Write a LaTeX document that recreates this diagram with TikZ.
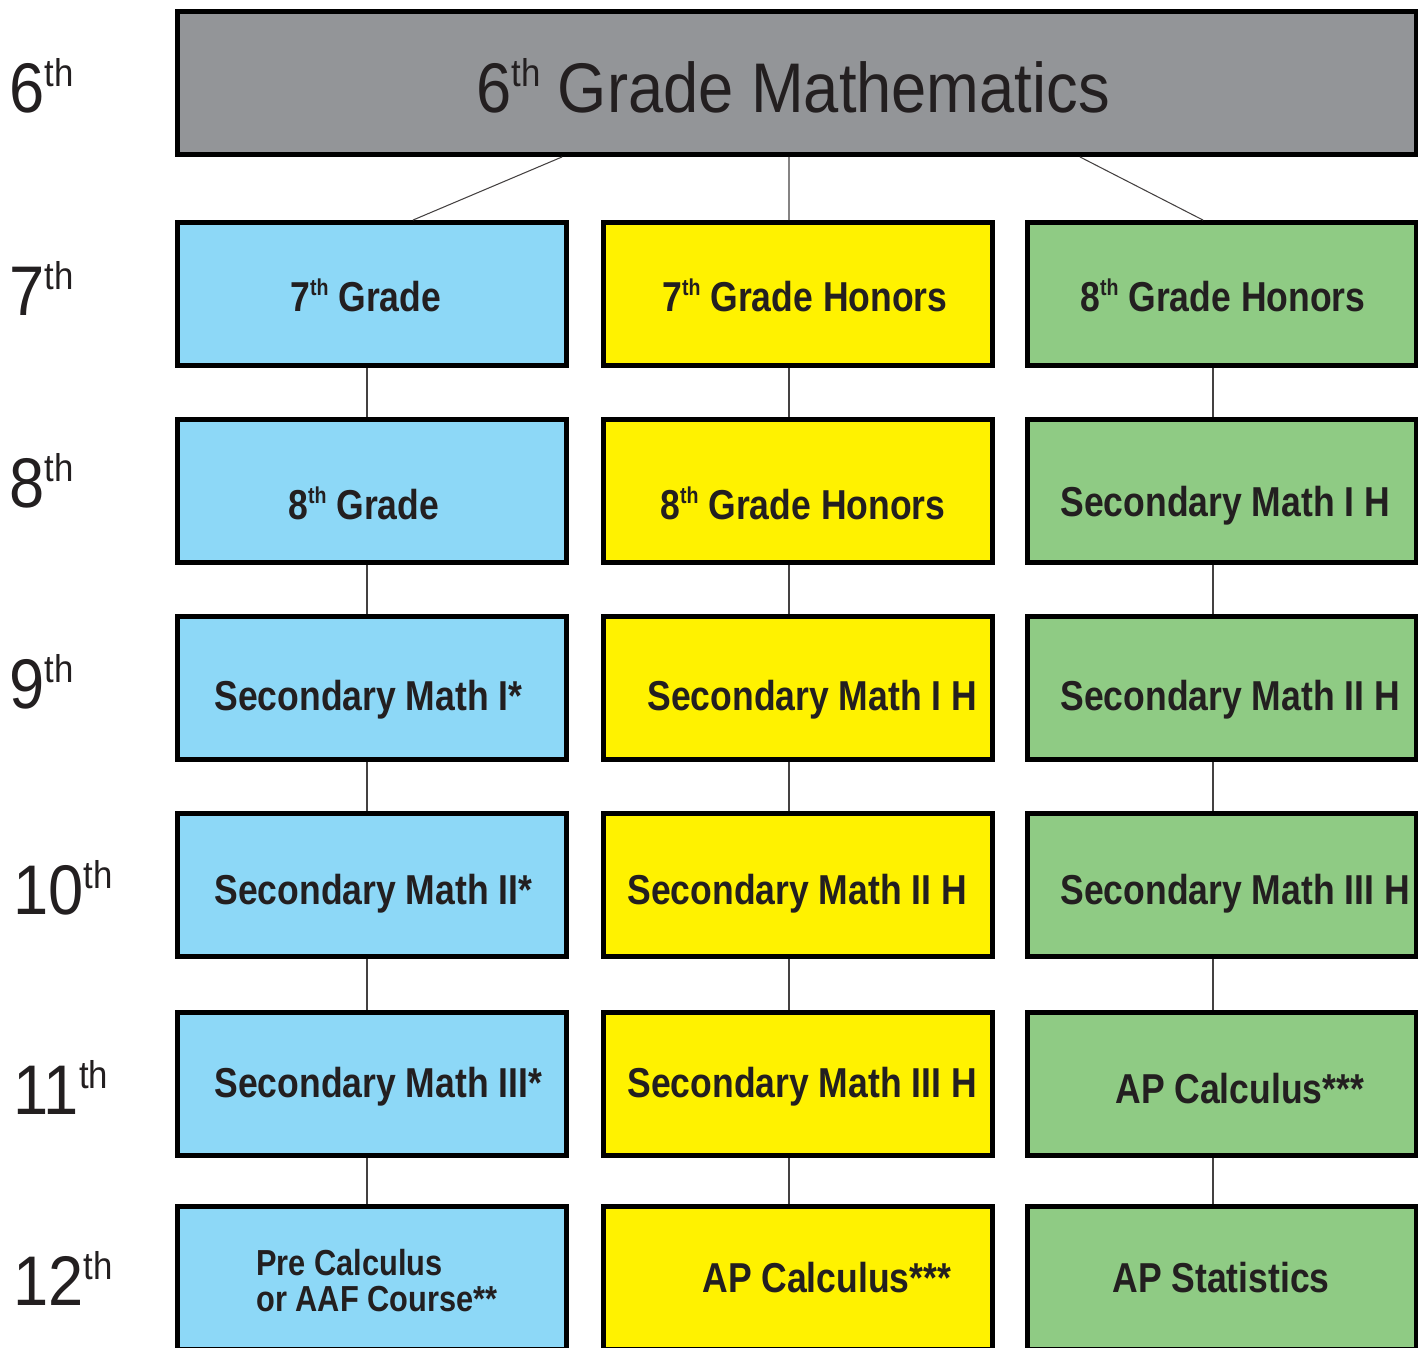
\documentclass[tikz,border=0pt]{standalone}
\usepackage{fontspec}
\setmainfont{Liberation Sans}
\newfontfamily\boxfont{Liberation Sans}[FakeStretch=0.85]
\newfontfamily\gradefont{Liberation Sans}[FakeStretch=0.9]
\definecolor{topgray}{HTML}{939598}
\definecolor{trackblue}{HTML}{8DD8F7}
\definecolor{trackyellow}{HTML}{FFF200}
\definecolor{trackgreen}{HTML}{8FCB84}
\definecolor{ink}{HTML}{231F20}
\newcommand{\ordth}[1]{#1\raisebox{0.7ex}{\scalebox{0.55}{th}}}

\begin{document}
\begin{tikzpicture}[x=0.02cm, y=-0.02cm,
  course/.style={draw=black, line width=2.8pt, minimum width=7.78cm,
    minimum height=2.86cm, inner sep=0pt},
  grade/.style={anchor=base west, inner sep=0pt, text=ink,
    font=\gradefont\fontsize{40}{40}\selectfont},
  lbl/.style={anchor=base west, inner sep=0pt, text=ink,
    font=\boxfont\bfseries\fontsize{23.8}{20}\selectfont},
  link/.style={draw=ink!85, line width=0.6pt}]
  \useasboundingbox (0,0) rectangle (1418,1347);
  \clip (0,0) rectangle (1418,1347);

  % ---------------- 6th grade (top) ----------------
  \node[course, fill=topgray, minimum width=24.8cm] (top) at (797,83) {};
  \node[grade, anchor=base] (title) at (793,112) {\ordth{6} Grade Mathematics};

  % ---------------- course boxes ----------------
  \foreach \r/\y in {7/294,8/491,9/688,10/885,11/1084,12/1278}{
    \node[course, fill=trackblue]   (b\r) at (372,\y)  {};
    \node[course, fill=trackyellow] (y\r) at (798,\y)  {};
    \node[course, fill=trackgreen]  (g\r) at (1222,\y) {};
  }

  % ---------------- connectors ----------------
  \draw[link] ([xshift=-4.7cm]top.south) -- ([xshift=0.82cm]b7.north);
  \draw[link] ([xshift=-0.16cm]top.south) -- ([xshift=-0.18cm]y7.north);
  \draw[link] ([xshift=5.66cm]top.south) -- ([xshift=-0.38cm]g7.north);
  \foreach \a/\b in {7/8,8/9,9/10,10/11,11/12}{
    \draw[link] ([xshift=-0.1cm]b\a.south)  -- ([xshift=-0.1cm]b\b.north);
    \draw[link] ([xshift=-0.18cm]y\a.south) -- ([xshift=-0.18cm]y\b.north);
    \draw[link] ([xshift=-0.18cm]g\a.south) -- ([xshift=-0.18cm]g\b.north);
  }

  % ---------------- grade labels (left) ----------------
  \foreach \g/\x/\y in {6/9/112,7/9/315,8/9/507,9/9/708,10/13/914,11/13/1114,12/13/1305}
    \node[grade] (grade\g) at (\x,\y) {\ordth{\g}};

  % ---------------- course names ----------------
  \node[lbl] (lb7) at (290,311)  {\ordth{7} Grade};
  \node[lbl] (ly7) at (662,311)  {\ordth{7} Grade Honors};
  \node[lbl] (lg7) at (1080,311) {\ordth{8} Grade Honors};

  \node[lbl] (lb8) at (288,519)  {\ordth{8} Grade};
  \node[lbl] (ly8) at (660,519)  {\ordth{8} Grade Honors};
  \node[lbl] (lg8) at (1060,516) {Secondary Math I H};

  \node[lbl] (lb9) at (214,710)  {Secondary Math I*};
  \node[lbl] (ly9) at (647,710)  {Secondary Math I H};
  \node[lbl] (lg9) at (1060,710) {Secondary Math II H};

  \node[lbl] (lb10) at (214,904)  {Secondary Math II*};
  \node[lbl] (ly10) at (627,904)  {Secondary Math II H};
  \node[lbl] (lg10) at (1060,904) {Secondary Math III H};

  \node[lbl] (lb11) at (214,1097)  {Secondary Math III*};
  \node[lbl] (ly11) at (627,1097)  {Secondary Math III H};
  \node[lbl] (lg11) at (1115,1103) {AP Calculus***};

  \node[lbl, anchor=west, align=left, font=\boxfont\bfseries\fontsize{20.6}{20.5}\selectfont]
    (lb12) at (256,1281) {Pre Calculus\\or AAF Course**};
  \node[lbl] (ly12) at (702,1292)  {AP Calculus***};
  \node[lbl] (lg12) at (1112,1292) {AP Statistics};
\end{tikzpicture}
\end{document}
